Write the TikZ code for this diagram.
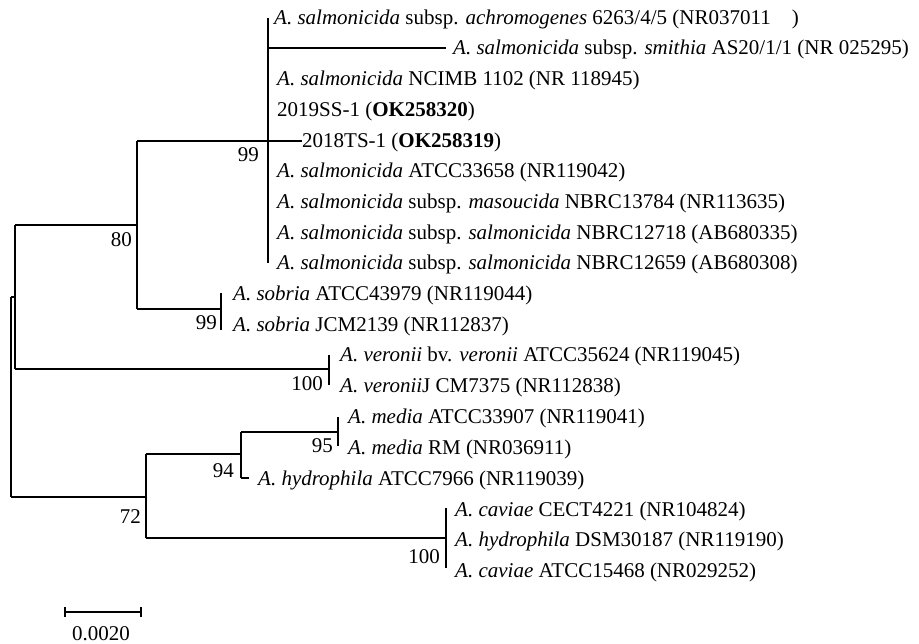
\documentclass[tikz,border=0pt]{standalone}
\usepackage{fontspec}
\setmainfont{Liberation Serif}
\begin{document}
\begin{tikzpicture}[x=1pt,y=-1pt,
  br/.style={line width=1.1pt},
  leaf/.style={anchor=base west, inner sep=0pt, yshift=-7pt, font=\fontsize{21}{24}\selectfont},
  bs/.style={anchor=base east, inner sep=0pt, font=\fontsize{21}{24}\selectfont}]
\useasboundingbox (0,0) rectangle (919,644);
% internal node coordinates
\coordinate (R1) at (11,297);
\coordinate (R2) at (11,497);
\coordinate (U0) at (15,297);
\coordinate (U1) at (15,225);
\coordinate (U2) at (15,369);
\coordinate (A0) at (137,225);
\coordinate (A1) at (137,141);
\coordinate (A2) at (137,309);
\coordinate (S0) at (268,141);
\coordinate (S1) at (268,18);
\coordinate (S2) at (268,263);
\coordinate (SM) at (268,48);
\coordinate (B0) at (221,309);
\coordinate (B1) at (221,293);
\coordinate (B2) at (221,330);
\coordinate (V0) at (329,369);
\coordinate (V1) at (329,355);
\coordinate (V2) at (329,385);
\coordinate (C0) at (146,497);
\coordinate (C1) at (146,454);
\coordinate (C2) at (146,538);
\coordinate (D0) at (241,454);
\coordinate (D1) at (241,432);
\coordinate (D2) at (241,478);
\coordinate (E0) at (338,432);
\coordinate (E1) at (338,417);
\coordinate (E2) at (338,446);
\coordinate (F0) at (446,538);
\coordinate (F1) at (446,508);
\coordinate (F2) at (446,568);
% leaf tips
\coordinate (T2) at (446,48);
\coordinate (T5) at (302,141);
\coordinate (T16) at (249,478);
% leaves
\node[leaf] (L1) at (274,18) {\textit{A. salmonicida} subsp. \textit{achromogenes} 6263/4/5 (NR037011\ \ \ \ )};
\node[leaf] (L2) at (453,48) {\textit{A. salmonicida} subsp. \textit{smithia} AS20/1/1 (NR 025295)};
\node[leaf] (L3) at (277,79) {\textit{A. salmonicida} NCIMB 1102 (NR 118945)};
\node[leaf] (L4) at (277,110) {2019SS-1 (\textbf{OK258320})};
\node[leaf] (L5) at (T5) {2018TS-1 (\textbf{OK258319})};
\node[leaf] (L6) at (277,171) {\textit{A. salmonicida} ATCC33658 (NR119042)};
\node[leaf] (L7) at (277,202) {\textit{A. salmonicida} subsp. \textit{masoucida} NBRC13784 (NR113635)};
\node[leaf] (L8) at (277,233) {\textit{A. salmonicida} subsp. \textit{salmonicida} NBRC12718 (AB680335)};
\node[leaf] (L9) at (277,263) {\textit{A. salmonicida} subsp. \textit{salmonicida} NBRC12659 (AB680308)};
\node[leaf] (L10) at (233,294) {\textit{A. sobria} ATCC43979 (NR119044)};
\node[leaf] (L11) at (233,325) {\textit{A. sobria} JCM2139 (NR112837)};
\node[leaf] (L12) at (340,355) {\textit{A. veronii} bv. \textit{veronii} ATCC35624 (NR119045)};
\node[leaf] (L13) at (340,386) {\textit{A. veronii}J CM7375 (NR112838)};
\node[leaf] (L14) at (348,417) {\textit{A. media} ATCC33907 (NR119041)};
\node[leaf] (L15) at (348,447) {\textit{A. media} RM (NR036911)};
\node[leaf] (L16) at (258,478) {\textit{A. hydrophila} ATCC7966 (NR119039)};
\node[leaf] (L17) at (455,509) {\textit{A. caviae} CECT4221 (NR104824)};
\node[leaf] (L18) at (455,539) {\textit{A. hydrophila} DSM30187 (NR119190)};
\node[leaf] (L19) at (455,570) {\textit{A. caviae} ATCC15468 (NR029252)};
% branches
\draw[br] (R1) -- (R2);
\draw[br] (R1) -- (U0);
\draw[br] (U1) -- (U2);
\draw[br] (U1) -- (A0);
\draw[br] (U2) -- (V0);
\draw[br] (A1) -- (A2);
\draw[br] (A1) -- (S0);
\draw[br] (S0) -- (T5);
\draw[br] (S1) -- (S2);
\draw[br] (SM) -- (T2);
\draw[br] (A2) -- (B0);
\draw[br] (B1) -- (B2);
\draw[br] (V1) -- (V2);
\draw[br] (R2) -- (C0);
\draw[br] (C1) -- (C2);
\draw[br] (C1) -- (D0);
\draw[br] (C2) -- (F0);
\draw[br] (D1) -- (D2);
\draw[br] (D1) -- (E0);
\draw[br] (D2) -- (T16);
\draw[br] (E1) -- (E2);
\draw[br] (F1) -- (F2);
% bootstrap values
\node[bs] (b80) at (132,247) {80};
\node[bs] (b99a) at (259,162) {99};
\node[bs] (b99b) at (217,330) {99};
\node[bs] (b100a) at (323,391) {100};
\node[bs] (b95) at (333,453) {95};
\node[bs] (b94) at (234,477) {94};
\node[bs] (b72) at (141,523) {72};
\node[bs] (b100b) at (440,563) {100};
% scale bar
\coordinate (SB1) at (65,612);
\coordinate (SB2) at (141,612);
\draw[br] (SB1) -- (SB2);
\draw[br] (65,607) -- (65,617);
\draw[br] (141,607) -- (141,617);
\node[anchor=base, inner sep=0pt, font=\fontsize{21}{24}\selectfont] (sbl) at (101,640) {0.0020};
\end{tikzpicture}
\end{document}
